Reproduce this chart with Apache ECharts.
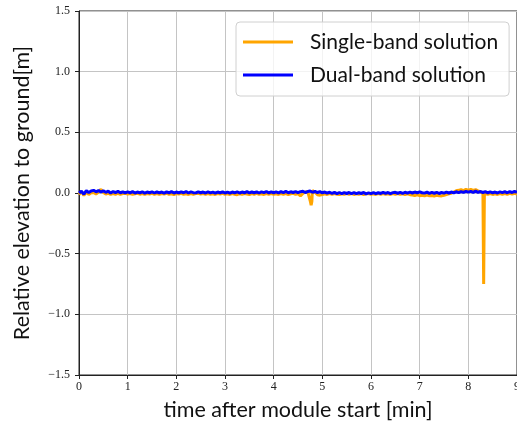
<!DOCTYPE html>
<html>
<head>
<meta charset="utf-8">
<script src="https://cdn.jsdelivr.net/npm/echarts@6/dist/echarts.min.js"></script>
<style>
  html, body { margin: 0; padding: 0; background: #fff; }
  #chart { width: 517px; height: 425px; }
</style>
</head>
<body>
<div id="chart"></div>
<script>
// Receiver height relative to ground, sampled every 0.05 min (0 … 9 min)
const sampleStep = 0.05;

const singleBand = [
  -0.014, 0.012, -0.020, 0.006, -0.012, 0.002, 0.004, -0.008, 0.008, 0.030, 0.004,
  -0.008, -0.002, -0.012, -0.004, -0.010, -0.003, -0.011, -0.005, -0.002, -0.009,
  -0.004, -0.011, -0.006, -0.002, -0.010, -0.005, -0.012, -0.004, -0.009, -0.003,
  -0.010, -0.005, -0.012, -0.004, -0.009, -0.002, -0.011, -0.006, -0.013, -0.005,
  -0.009, -0.003, -0.011, -0.006, -0.012, -0.004, -0.010, -0.005, -0.002, -0.009,
  -0.005, -0.011, -0.004, -0.010, -0.006, -0.012, -0.005, -0.009, -0.003, -0.010,
  -0.006, -0.012, -0.004, -0.010, -0.014, -0.006, -0.011, -0.004, -0.009, -0.013,
  -0.005, -0.010, -0.003, -0.011, -0.006, -0.012, -0.004, -0.010, -0.005, -0.011,
  -0.006, -0.012, -0.004, -0.010, -0.005, -0.013, -0.007, -0.003, -0.011, -0.006,
  -0.025, -0.004, 0.008, 0.012, -0.010, 0.030, 0.006, -0.014, -0.018, -0.012,
  -0.006, -0.012, -0.005, -0.011, -0.004, -0.010, -0.013, -0.006, -0.011, -0.005,
  -0.010, -0.004, -0.012, -0.006, -0.011, -0.005, -0.013, -0.007, -0.004, -0.011,
  -0.006, -0.012, -0.005, -0.010, -0.004, -0.011, -0.006, -0.012, -0.005, -0.010,
  -0.004, -0.011, -0.006, -0.012, -0.007, -0.014, -0.016, -0.020, -0.015, -0.022,
  -0.019, -0.024, -0.017, -0.023, -0.020, -0.025, -0.018, -0.022, -0.024, -0.019,
  -0.013, -0.007, -0.002, 0.008, 0.018, 0.022, 0.028, 0.020, 0.030, 0.024,
  0.029, 0.021, 0.027, 0.018, 0.010, -0.004, 0.000, -0.010, -0.004, -0.012,
  -0.006, -0.012, -0.004, -0.010, -0.005, -0.011, -0.003, -0.009, -0.002, -0.008
];

const dualBand = [
  0.000, 0.014, -0.010, 0.020, 0.004, 0.017, 0.022, 0.010, 0.020, 0.008, 0.018,
  0.006, 0.015, 0.000, 0.012, 0.004, 0.013, 0.002, 0.010, 0.001, 0.009,
  0.002, 0.011, 0.000, 0.008, 0.001, 0.010, -0.001, 0.008, 0.002, 0.009,
  0.000, 0.010, 0.001, 0.008, -0.001, 0.009, 0.002, 0.011, 0.000, 0.008,
  0.001, 0.010, 0.002, 0.012, 0.000, 0.009, 0.003, 0.001, 0.010, 0.002,
  0.008, 0.000, 0.009, 0.001, 0.007, -0.001, 0.008, 0.001, 0.010, 0.000,
  0.007, -0.001, 0.008, 0.001, 0.009, 0.000, 0.008, 0.002, 0.011, 0.001,
  0.008, 0.002, 0.010, 0.000, 0.009, 0.003, 0.012, 0.001, 0.010, 0.002,
  0.009, 0.001, 0.011, 0.003, 0.013, 0.002, 0.010, 0.004, 0.012, 0.003,
  0.011, 0.014, 0.004, 0.012, 0.016, 0.006, 0.013, 0.004, 0.011, 0.002,
  0.008, -0.001, 0.006, -0.004, 0.005, -0.005, 0.004, -0.006, 0.003, -0.004,
  0.004, -0.005, 0.003, -0.006, 0.002, -0.004, 0.004, -0.007, 0.001, -0.005,
  0.003, -0.006, 0.002, -0.004, 0.005, -0.003, 0.004, -0.005, 0.003, 0.006,
  -0.002, 0.005, -0.004, 0.006, -0.001, 0.007, 0.000, 0.008, 0.001, 0.010,
  0.002, -0.001, 0.007, -0.003, 0.005, -0.002, 0.006, -0.004, 0.004, -0.001,
  0.007, 0.000, 0.008, 0.001, 0.010, 0.003, 0.012, 0.005, 0.014, 0.007,
  0.013, 0.005, 0.015, 0.006, 0.012, 0.004, 0.011, 0.002, 0.009, 0.001,
  0.008, 0.000, 0.009, 0.003, 0.011, 0.002, 0.012, 0.004, 0.014, 0.006
];

// Short outliers of the single-band solution, recorded at finer time resolution
const singleBandDip = [[4.73, 0.010], [4.755, -0.07], [4.77, -0.10], [4.785, -0.07], [4.795, 0.02]];
const singleBandSpike = [[8.31, -0.005], [8.315, -0.75], [8.325, -0.75], [8.33, -0.005]];

const yTicks = [-1.5, -1.0, -0.5, 0.0, 0.5, 1.0, 1.5];

function toPairs(values, events) {
  let pts = values.map((v, i) => [+(i * sampleStep).toFixed(3), v]);
  events.forEach(ev => {
    const t0 = ev[0][0], t1 = ev[ev.length - 1][0];
    pts = pts.filter(p => p[0] < t0 || p[0] > t1).concat(ev);
  });
  return pts.sort((a, b) => a[0] - b[0]);
}

const serif = 'Liberation Serif';
const sans = 'Lato';

const chart = echarts.init(document.getElementById('chart'), null, { renderer: 'canvas' });
chart.setOption({
  animation: false,
  backgroundColor: '#fff',
  grid: {
    left: 79, top: 11, right: 0, bottom: 50,
    outerBoundsMode: 'none', containLabel: false,
    show: true, borderColor: '#222', borderWidth: 1, backgroundColor: 'transparent'
  },
  legend: {
    orient: 'vertical',
    left: 236, top: 22,
    padding: [8, 11, 9, 7],
    itemGap: 9,
    itemWidth: 50, itemHeight: 3,
    icon: 'rect',
    backgroundColor: 'rgba(255,255,255,0.8)',
    borderColor: '#d0d0d0', borderWidth: 1, borderRadius: 4,
    textStyle: { fontFamily: sans, fontSize: 21, color: '#111', lineHeight: 24, padding: [0, 0, 0, 12] },
    data: ['Single-band solution', 'Dual-band solution']
  },
  xAxis: {
    type: 'value', min: 0, max: 9, interval: 1,
    name: 'time after module start [min]',
    nameLocation: 'middle', nameGap: 24,
    nameTextStyle: { fontFamily: sans, fontSize: 21.5, color: '#111' },
    axisLine: { show: true, onZero: false, lineStyle: { color: '#222', width: 1 } },
    axisTick: { show: true, length: 4, lineStyle: { color: '#222' } },
    axisLabel: { fontFamily: serif, fontSize: 12, color: '#222', margin: 6, showMaxLabel: true, hideOverlap: false },
    splitLine: { show: true, lineStyle: { color: '#c4c4c4', width: 1 } }
  },
  yAxis: {
    type: 'value', min: yTicks[0], max: yTicks[yTicks.length - 1], interval: 0.5,
    name: 'Relative elevation to ground[m]',
    nameLocation: 'middle', nameGap: 46,
    nameTextStyle: { fontFamily: sans, fontSize: 21.5, color: '#111' },
    axisLine: { show: true, onZero: false, lineStyle: { color: '#222', width: 1 } },
    axisTick: { show: true, length: 4, lineStyle: { color: '#222' } },
    axisLabel: {
      fontFamily: serif, fontSize: 12, color: '#222', margin: 9,
      formatter: v => v.toFixed(1).replace('-', '\u2212')
    },
    splitLine: { show: true, lineStyle: { color: '#c4c4c4', width: 1 } }
  },
  series: [
    {
      name: 'Single-band solution', type: 'line', showSymbol: false,
      data: toPairs(singleBand, [singleBandDip, singleBandSpike]),
      lineStyle: { color: '#ffa500', width: 3 }, itemStyle: { color: '#ffa500' }
    },
    {
      name: 'Dual-band solution', type: 'line', showSymbol: false,
      data: toPairs(dualBand, []),
      lineStyle: { color: '#0000ff', width: 3 }, itemStyle: { color: '#0000ff' }
    }
  ]
});
</script>
</body>
</html>
